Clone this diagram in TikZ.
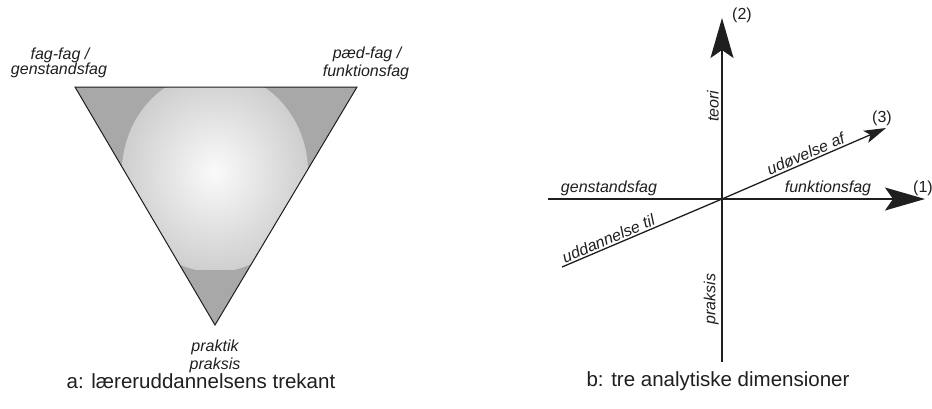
\documentclass[tikz,border=0pt]{standalone}
\usepackage{fontspec}
\setmainfont{Liberation Sans}
\usetikzlibrary{arrows.meta}
\definecolor{trigray}{gray}{0.66}
\definecolor{ellout}{gray}{0.81}
\definecolor{ellin}{gray}{0.98}
\definecolor{inkc}{gray}{0.12}
\tikzset{
  lbl/.style={font=\fontsize{16}{18}\selectfont\itshape, text=inkc, inner sep=0pt},
  num/.style={font=\fontsize{16}{18}\selectfont, text=inkc, inner sep=0pt},
  captxt/.style={font=\fontsize{20.5}{22}\selectfont, text=inkc, inner sep=0pt},
  axis/.style={draw=inkc, line width=1.3pt},
  bigtip/.style={-{Stealth[length=40pt,width=23pt,inset=8pt]}},
  smalltip/.style={-{Stealth[length=22pt,width=13pt,inset=5pt]}}
}
\begin{document}
\begin{tikzpicture}[x=1pt,y=-1pt]
\useasboundingbox (0,0) rectangle (932,408);
\fill[white] (0,0) rectangle (932,408);
% ---- triangle ----
\coordinate (A) at (75,87);
\coordinate (B) at (357,87);
\coordinate (C) at (215,325);
\fill[trigray] (A) -- (B) -- (C) -- cycle;
\begin{scope}
  \clip (A) -- (B) -- (C) -- cycle;
  \clip (0,0) rectangle (932,269);
  \shade[inner color=ellin, outer color=ellout] (215,172) ellipse [x radius=93, y radius=100];
\end{scope}
\draw[draw=inkc, line width=1pt, line join=miter] (A) -- (B) -- (C) -- cycle;
\node[lbl] (l1) at (60,55) {fag-fag /};
\node[lbl] (l2) at (59,70) {genstandsfag};
\node[lbl] (r1) at (367,54) {pæd-fag /};
\node[lbl] (r2) at (366,72) {funktionsfag};
\node[lbl] (b1) at (215,347) {praktik};
\node[lbl] (b2) at (215,365) {praksis};
\node[captxt] (capa) at (201,381) {a: læreruddannelsens trekant};
% ---- axes ----
\coordinate (O) at (722,199);
\coordinate (xl) at (548,199);
\coordinate (xr) at (925,199);
\coordinate (yb) at (722,362);
\coordinate (yt) at (722,18);
\coordinate (dl) at (562,267);
\coordinate (dr) at (886,128);
\draw[axis] (O) -- (xl);
\draw[axis] (O) -- (yb);
\draw[axis] (dl) -- (O);
\draw[axis, bigtip] (O) -- (xr);
\draw[axis, bigtip] (O) -- (yt);
\draw[axis, smalltip] (O) -- (dr);
\node[num] (n1) at (923,188) {(1)};
\node[num] (n2) at (742,15) {(2)};
\node[num] (n3) at (882,118) {(3)};
\node[lbl, anchor=south] (gs) at (609,196) {genstandsfag};
\node[lbl, anchor=south] (fk) at (828,196) {funktionsfag};
\node[lbl, rotate=90, anchor=south] (te) at (719,106) {teori};
\node[lbl, rotate=90, anchor=south] (pr) at (719,299) {praksis};
\path (O) -- (dr) node[lbl, pos=0.53, sloped, anchor=south, yshift=2pt] (ud) {udøvelse af};
\path (dl) -- (O) node[lbl, pos=0.31, sloped, anchor=south, yshift=2pt] (ut) {uddannelse til};
\node[captxt] (capb) at (718,381) {b: tre analytiske dimensioner};
\end{tikzpicture}
\end{document}
